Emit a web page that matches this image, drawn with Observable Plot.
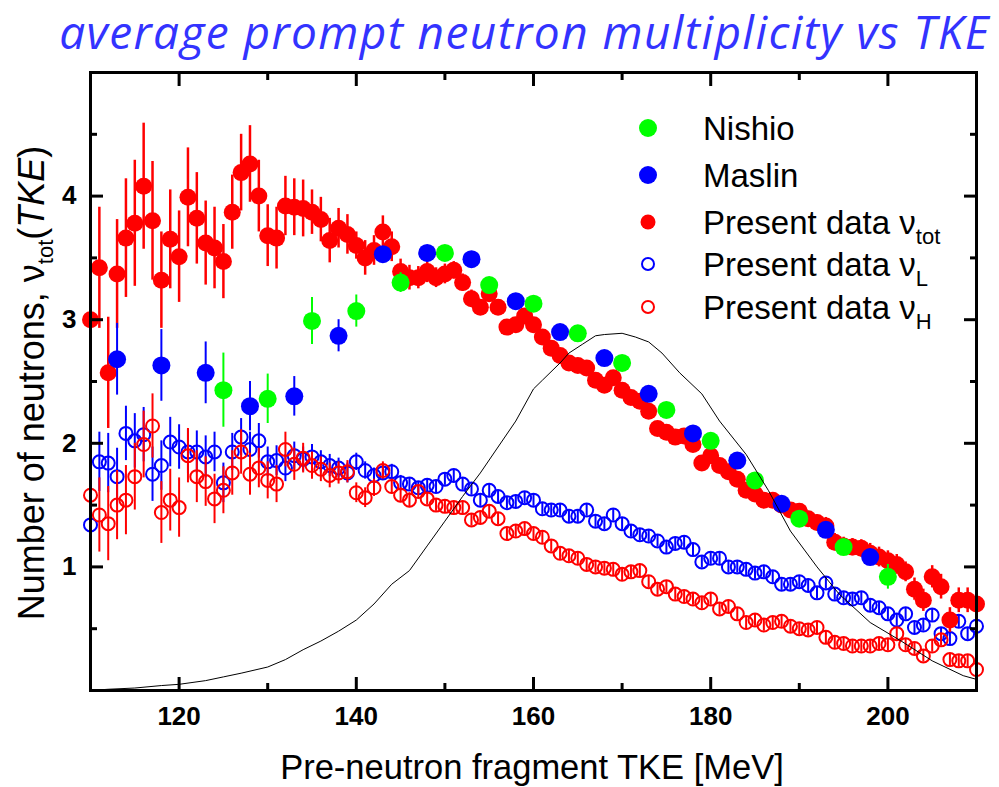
<!DOCTYPE html>
<html>
<head>
<meta charset="utf-8">
<script src="https://cdn.jsdelivr.net/npm/d3@7"></script>
<script src="https://cdn.jsdelivr.net/npm/@observablehq/plot@0.6"></script>
<style>
  body { margin: 0; background: #fff; }
  #wrap { position: relative; width: 999px; height: 787px; overflow: hidden; }
  #title { height: 63px; box-sizing: border-box; text-align: right; padding-right: 9px;
           font-family: "Open Sans", sans-serif; font-style: italic; font-size: 46px;
           letter-spacing: 1.4px; line-height: 63px; color: #3333ff; white-space: nowrap; }
</style>
</head>
<body>
<div id="wrap">
  <div id="title">average prompt neutron multiplicity vs TKE</div>
  <div id="chart"></div>
</div>
<script>
// ---- data ----
const tke = [110,111,112,113,114,115,116,117,118,119,120,121,122,123,124,125,126,127,128,129,
  130,131,132,133,134,135,136,137,138,139,140,141,142,143,144,145,146,147,148,149,
  150,151,152,153,154,155,156,157,158,159,160,161,162,163,164,165,166,167,168,169,
  170,171,172,173,174,175,176,177,178,179,180,181,182,183,184,185,186,187,188,189,
  190,191,192,193,194,195,196,197,198,199,200,201,202,203,204,205,206,207,208,209,210];

const nuTot = [3.00,3.42,2.57,3.37,3.66,3.78,4.08,3.80,3.32,3.65,
  3.51,3.99,3.82,3.62,3.58,3.47,3.87,4.19,4.26,4.00,
  3.68,3.66,3.92,3.91,3.90,3.87,3.81,3.64,3.74,3.69,
  3.60,3.50,3.56,3.71,3.59,3.39,3.34,3.34,3.39,3.34,
  3.37,3.40,3.30,3.17,3.10,3.21,3.10,2.94,2.96,3.03,
  2.96,2.86,2.77,2.71,2.65,2.63,2.61,2.51,2.47,2.53,
  2.43,2.37,2.34,2.26,2.12,2.09,2.05,2.06,1.99,1.84,
  1.90,1.82,1.77,1.71,1.62,1.59,1.54,1.54,1.50,1.46,
  1.45,1.39,1.36,1.33,1.20,1.17,1.16,1.15,1.11,1.08,
  1.05,1.02,0.96,0.82,0.73,0.92,0.84,0.57,0.73,0.73,
  0.70];
const errTot = [0.45,0.49,0.45,0.44,0.48,0.51,0.51,0.48,0.39,0.40,
  0.37,0.40,0.37,0.34,0.33,0.30,0.30,0.31,0.31,0.29,
  0.25,0.25,0.24,0.23,0.23,0.18,0.18,0.18,0.16,0.16,
  0.11,0.14,0.12,0.13,0.12,0.10,0.10,0.09,0.09,0.08,
  0.08,0.07,0.07,0.07,0.06,0.06,0.06,0.06,0.05,0.05,
  0.05,0.05,0.05,0.05,0.05,0.05,0.05,0.05,0.05,0.05,
  0.05,0.05,0.05,0.05,0.05,0.05,0.05,0.05,0.05,0.05,
  0.05,0.05,0.05,0.05,0.05,0.05,0.05,0.05,0.05,0.06,
  0.06,0.06,0.06,0.07,0.07,0.07,0.07,0.07,0.08,0.08,
  0.08,0.08,0.08,0.09,0.09,0.09,0.10,0.10,0.10,0.10,
  0.09];

const nuL = [1.34,1.85,1.84,1.73,2.08,2.02,2.07,1.75,1.82,2.01,
  1.97,1.93,1.93,1.89,1.93,1.68,1.93,2.05,1.95,2.02,
  1.85,1.86,1.80,1.90,1.87,1.89,1.85,1.82,1.80,1.76,
  1.85,1.78,1.74,1.76,1.77,1.68,1.67,1.64,1.66,1.65,
  1.71,1.74,1.67,1.63,1.54,1.62,1.57,1.52,1.53,1.56,
  1.54,1.47,1.46,1.46,1.41,1.41,1.46,1.37,1.35,1.42,
  1.35,1.29,1.26,1.25,1.21,1.16,1.19,1.20,1.14,1.04,
  1.07,1.07,1.00,1.00,0.98,0.95,0.96,0.92,0.86,0.86,
  0.88,0.85,0.79,0.87,0.78,0.75,0.74,0.75,0.69,0.67,
  0.62,0.57,0.62,0.51,0.53,0.61,0.46,0.42,0.56,0.46,
  0.52];
const errL = [0.25,0.24,0.24,0.23,0.22,0.22,0.22,0.22,0.20,0.20,
  0.18,0.18,0.17,0.17,0.16,0.16,0.15,0.15,0.14,0.14,
  0.12,0.12,0.11,0.11,0.10,0.10,0.09,0.09,0.08,0.08,
  0.07,0.07,0.06,0.06,0.06,0.06,0.05,0.05,0.05,0.05,
  0.05,0.05,0.05,0.05,0.05,0.05,0.05,0.05,0.05,0.05,
  0.05,0.05,0.05,0.05,0.05,0.05,0.05,0.05,0.05,0.05,
  0.05,0.05,0.05,0.05,0.05,0.05,0.05,0.05,0.05,0.05,
  0.05,0.05,0.05,0.05,0.05,0.05,0.05,0.05,0.05,0.05,
  0.05,0.05,0.05,0.05,0.05,0.05,0.05,0.05,0.05,0.05,
  0.05,0.05,0.05,0.05,0.05,0.05,0.05,0.05,0.05,0.05,
  0.05];

const nuH = [1.58,1.42,1.35,1.50,1.54,1.73,1.99,2.14,1.44,1.54,
  1.48,1.90,1.73,1.69,1.55,1.62,1.76,1.93,1.75,1.80,
  1.70,1.67,1.95,1.83,1.88,1.82,1.79,1.74,1.76,1.77,
  1.60,1.56,1.64,1.78,1.65,1.58,1.54,1.61,1.55,1.50,
  1.49,1.48,1.48,1.38,1.40,1.45,1.39,1.27,1.29,1.31,
  1.27,1.24,1.17,1.11,1.09,1.07,1.02,1.00,0.99,0.98,
  0.94,0.96,0.97,0.88,0.82,0.84,0.78,0.76,0.74,0.71,
  0.74,0.66,0.68,0.62,0.55,0.57,0.53,0.55,0.56,0.52,
  0.50,0.49,0.51,0.43,0.39,0.38,0.36,0.36,0.36,0.38,
  0.37,0.46,0.37,0.34,0.28,0.36,0.41,0.25,0.24,0.24,
  0.17];
const errH = [0.33,0.30,0.30,0.28,0.28,0.27,0.27,0.26,0.25,0.25,
  0.24,0.22,0.21,0.20,0.20,0.19,0.18,0.18,0.17,0.16,
  0.15,0.15,0.14,0.13,0.12,0.11,0.10,0.10,0.09,0.09,
  0.08,0.08,0.07,0.07,0.06,0.06,0.06,0.05,0.05,0.05,
  0.05,0.05,0.05,0.05,0.05,0.05,0.05,0.05,0.05,0.05,
  0.05,0.05,0.05,0.05,0.05,0.05,0.05,0.05,0.05,0.05,
  0.05,0.05,0.05,0.05,0.05,0.05,0.05,0.05,0.05,0.05,
  0.05,0.05,0.05,0.05,0.05,0.05,0.05,0.05,0.05,0.05,
  0.05,0.05,0.05,0.05,0.05,0.05,0.05,0.05,0.05,0.05,
  0.05,0.05,0.05,0.05,0.05,0.05,0.05,0.05,0.05,0.05,
  0.05];

const nishioX = [125,130,135,140,145,150,155,160,165,170,175,180,185,190,195,200];
const nishioY = [2.43,2.36,2.99,3.07,3.30,3.54,3.28,3.13,2.89,2.65,2.27,2.02,1.70,1.39,1.16,0.92];
const nishioE = [0.30,0.20,0.19,0.13,0.08,0.06,0.05,0.05,0.04,0.04,0.04,0.04,0.04,0.04,0.04,0.10];

const maslinX = [113,118,123,128,133,138,143,148,153,158,163,168,173,178,183,188,193,198];
const maslinY = [2.68,2.63,2.57,2.30,2.38,2.87,3.53,3.54,3.49,3.15,2.90,2.69,2.40,2.08,1.86,1.51,1.30,1.08];
const maslinE = [0.29,0.29,0.25,0.20,0.16,0.13,0.06,0.05,0.05,0.04,0.04,0.04,0.04,0.04,0.04,0.04,0.04,0.04];

// TKE distribution (arbitrary scale), thin black line
const curveX = [110,112,115,118,120,123,125,127,130,132,134,136,138,140,142,144,146,148,150,152,154,156,158,160,161,163,164,165.5,167,168,170,171.5,173,174.5,176.5,179,181,184,186.5,189,192,194.5,198,201.5,205,208.5,210];
const curveY = [0.0,0.01,0.02,0.04,0.05,0.08,0.11,0.14,0.19,0.25,0.33,0.40,0.48,0.57,0.70,0.86,0.97,1.17,1.37,1.57,1.76,1.97,2.18,2.44,2.51,2.65,2.73,2.80,2.87,2.88,2.89,2.86,2.82,2.73,2.57,2.40,2.18,1.91,1.62,1.29,1.00,0.78,0.55,0.40,0.24,0.12,0.09];

const xMajor = [120,140,160,180,200];
const xMinor = [110,130,150,170,190,210];
const yMajor = [1,2,3,4];
const yMinor = [0.5,1.5,2.5,3.5,4.5];

// ---- tables ----
const mk = (xs, ys, es) => xs.map((x, i) => ({x, y: ys[i], e: es[i]}));
const tot = mk(tke, nuTot, errTot);
const lig = mk(tke, nuL, errL);
const hev = mk(tke, nuH, errH);
const nis = mk(nishioX, nishioY, nishioE);
const mas = mk(maslinX, maslinY, maslinE);
const curve = curveX.map((x, i) => ({x, y: curveY[i]}));

const RED = "#ff0000", BLUE = "#0000ff", GREEN = "#00ff00";
const bar = (data, color, w) => Plot.ruleX(data, {x: "x", y1: d => d.y - d.e, y2: d => d.y + d.e, stroke: color, strokeWidth: w});
const blank = () => "";
const plain = d => String(d);

const chart = Plot.plot({
  width: 999,
  height: 724,
  marginLeft: 90,
  marginRight: 23,
  marginTop: 9,
  marginBottom: 97,
  x: {domain: [110, 210]},
  y: {domain: [0, 5]},
  style: {fontFamily: "'Liberation Sans', Arial, sans-serif", fontSize: "26px", fontWeight: "bold", color: "black", background: "white"},
  marks: [
    bar(lig, BLUE, 2),
    Plot.dot(lig, {x: "x", y: "y", r: 6.5, fill: "none", stroke: BLUE, strokeWidth: 2}),
    bar(hev, RED, 2),
    Plot.dot(hev, {x: "x", y: "y", r: 6.5, fill: "none", stroke: RED, strokeWidth: 2}),
    bar(tot, RED, 2.5),
    Plot.dot(tot, {x: "x", y: "y", r: 8.5, fill: RED}),
    bar(mas, BLUE, 2),
    Plot.dot(mas, {x: "x", y: "y", r: 9, fill: BLUE}),
    bar(nis, GREEN, 2),
    Plot.dot(nis, {x: "x", y: "y", r: 9, fill: GREEN}),
    Plot.line(curve, {x: "x", y: "y", stroke: "black", strokeWidth: 1, curve: "linear"}),
    Plot.frame({stroke: "black", strokeWidth: 3}),
    // axes: labels
    Plot.axisX({ticks: xMajor, tickSize: 0, tickPadding: 16, tickFormat: plain, label: null}),
    Plot.axisY({ticks: yMajor, tickSize: 0, tickPadding: 14, tickFormat: plain, label: null}),
    // inward ticks on all four sides
    Plot.axisX({anchor: "bottom", ticks: xMajor, tickSize: -13, strokeWidth: 3, tickFormat: blank, label: null}),
    Plot.axisX({anchor: "bottom", ticks: xMinor, tickSize: -7, strokeWidth: 3, tickFormat: blank, label: null}),
    Plot.axisX({anchor: "top", ticks: xMajor, tickSize: -13, strokeWidth: 3, tickFormat: blank, label: null}),
    Plot.axisX({anchor: "top", ticks: xMinor, tickSize: -7, strokeWidth: 3, tickFormat: blank, label: null}),
    Plot.axisY({anchor: "left", ticks: yMajor, tickSize: -13, strokeWidth: 3, tickFormat: blank, label: null}),
    Plot.axisY({anchor: "left", ticks: yMinor, tickSize: -7, strokeWidth: 3, tickFormat: blank, label: null}),
    Plot.axisY({anchor: "right", ticks: yMajor, tickSize: -13, strokeWidth: 3, tickFormat: blank, label: null}),
    Plot.axisY({anchor: "right", ticks: yMinor, tickSize: -7, strokeWidth: 3, tickFormat: blank, label: null})
  ]
});
document.getElementById("chart").appendChild(chart);

// ---- axis titles and legend (real text) ----
const svg = d3.select(chart);
const FONT = "'Liberation Sans', Arial, sans-serif";

svg.append("text")
  .attr("x", 532).attr("y", 716)
  .attr("text-anchor", "middle")
  .style("font-family", FONT).style("font-size", "34.5px").style("font-weight", "normal")
  .text("Pre-neutron fragment TKE [MeV]");

const yl = svg.append("text")
  .attr("transform", "translate(44,320) rotate(-90)")
  .attr("text-anchor", "middle")
  .style("font-family", FONT).style("font-size", "36px").style("font-weight", "normal");
yl.append("tspan").text("Number of neutrons, \u03bd");
yl.append("tspan").attr("dy", 9).style("font-size", "22px").text("tot");
yl.append("tspan").attr("dy", -9).text("(");
yl.append("tspan").style("font-style", "italic").text("TKE");
yl.append("tspan").text(")");

const legendRows = [
  {label: "Nishio", sub: "", fill: GREEN, stroke: "none", r: 9},
  {label: "Maslin", sub: "", fill: BLUE, stroke: "none", r: 9},
  {label: "Present data \u03bd", sub: "tot", fill: RED, stroke: "none", r: 7.5},
  {label: "Present data \u03bd", sub: "L", fill: "none", stroke: BLUE, r: 6},
  {label: "Present data \u03bd", sub: "H", fill: "none", stroke: RED, r: 6}
];
const legendY = [65, 112, 159, 201, 244];
const lg = svg.append("g").attr("text-anchor", "start");
legendRows.forEach((row, i) => {
  const cy = legendY[i];
  lg.append("circle").attr("cx", 648).attr("cy", cy).attr("r", row.r)
    .attr("fill", row.fill).attr("stroke", row.stroke).attr("stroke-width", 2);
  const t = lg.append("text").attr("x", 703).attr("y", cy + 12)
    .attr("text-anchor", "start")
    .style("font-family", FONT).style("font-size", "33px").style("font-weight", "normal")
    .text(row.label);
  if (row.sub) t.append("tspan").attr("dy", 10).style("font-size", "22px").text(row.sub);
});
</script>
</body>
</html>
